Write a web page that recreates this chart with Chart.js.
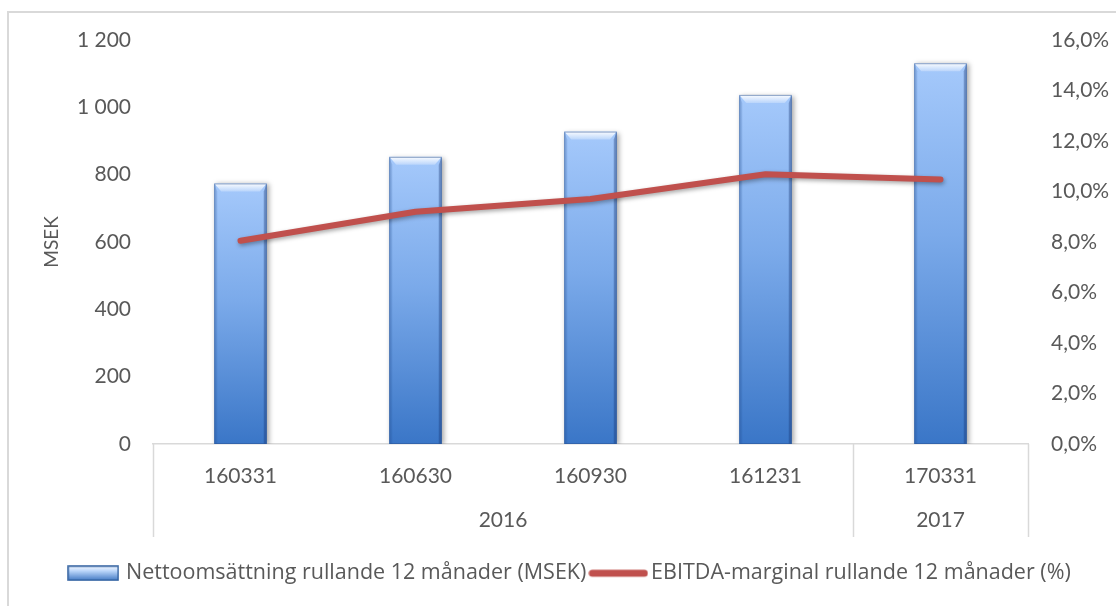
<!DOCTYPE html>
<html>
<head>
<meta charset="utf-8">
<script src="https://cdn.jsdelivr.net/npm/chart.js@4.4.1/dist/chart.umd.min.js"></script>
<style>
  html, body { margin: 0; padding: 0; background: #ffffff; overflow: hidden; }
  #wrap { position: relative; width: 1116px; height: 606px; }
  #frame { position: absolute; left: 7px; top: 11px; width: 1200px; height: 700px;
           border: 2px solid #d9d9d9; box-sizing: border-box; }
  #box { position: absolute; left: 0; top: 0; width: 1116px; height: 606px; }
</style>
</head>
<body>
<div id="wrap">
  <div id="frame"></div>
  <div id="box"><canvas id="c"></canvas></div>
</div>
<script>
// ---- data ----
const categories = ['160331', '160630', '160930', '161231', '170331'];
const groupLabels = ['2016', '2017'];
const groupSpans = [4, 1];
const salesMSEK = [774, 853, 928, 1037, 1131];
const ebitdaMarginPct = [8.05, 9.2, 9.7, 10.68, 10.48];
const barLabel = 'Nettoomsättning rullande 12 månader (MSEK)';
const lineLabel = 'EBITDA-marginal rullande 12 månader (%)';
const leftAxisTitle = 'MSEK';
const leftTicks = { min: 0, max: 1200, step: 200 };
const rightTicks = { min: 0, max: 16, step: 2 };

const TEXT = '#595959';
const FONT = 'Lato, "Open Sans", sans-serif';
const LEGEND_FONT = '"Open Sans", Lato, sans-serif';
const RED = '#C0504D';

// legend glyphs
function makeBarGlyph() {
  const c = document.createElement('canvas');
  c.width = 52; c.height = 16;
  const g = c.getContext('2d');
  const gr = g.createLinearGradient(0, 0, 0, 16);
  gr.addColorStop(0, '#ffffff');
  gr.addColorStop(0.35, '#bcd7fb');
  gr.addColorStop(1, '#3a73c0');
  g.fillStyle = gr;
  g.fillRect(1, 1, 50, 14);
  g.strokeStyle = '#2f5f9e';
  g.lineWidth = 1.5;
  g.strokeRect(1, 1, 50, 14);
  return c;
}
function makeLineGlyph() {
  const c = document.createElement('canvas');
  c.width = 60; c.height = 10;
  const g = c.getContext('2d');
  g.strokeStyle = RED;
  g.lineWidth = 7;
  g.lineCap = 'round';
  g.beginPath(); g.moveTo(4, 5); g.lineTo(56, 5); g.stroke();
  return c;
}
const barGlyph = makeBarGlyph();
const lineGlyph = makeLineGlyph();

function barGradient(ctx) {
  const chart = ctx.chart;
  if (!chart.chartArea || ctx.raw === undefined) return '#6fa0e2';
  const ys = chart.scales.y;
  const top = ys.getPixelForValue(ctx.raw);
  const base = ys.getPixelForValue(0);
  const g = chart.ctx.createLinearGradient(0, top, 0, base);
  g.addColorStop(0, '#A5C9FB');
  g.addColorStop(0.45, '#7BAAEA');
  g.addColorStop(1, '#3A76C7');
  return g;
}

// bevel + shadow for bars
const bevelPlugin = {
  id: 'bevel',
  beforeDatasetDraw(chart, args) {
    const ctx = chart.ctx;
    ctx.save();
    if (args.meta.type === 'bar') {
      ctx.shadowColor = 'rgba(0,0,0,0.35)';
      ctx.shadowBlur = 5; ctx.shadowOffsetX = 2; ctx.shadowOffsetY = 1;
    } else {
      ctx.shadowColor = 'rgba(0,0,0,0.35)';
      ctx.shadowBlur = 4; ctx.shadowOffsetX = 1; ctx.shadowOffsetY = 2;
    }
  },
  afterDatasetDraw(chart, args) {
    const ctx = chart.ctx;
    ctx.restore();
    if (args.meta.type !== 'bar') return;
    args.meta.data.forEach(el => {
      const w = el.width, l = el.x - w / 2, r = el.x + w / 2, t = el.y, b = el.base;
      const bv = 8, sd = 3;
      ctx.save();
      ctx.fillStyle = 'rgba(30,70,140,0.18)';
      ctx.beginPath(); ctx.moveTo(l, t); ctx.lineTo(l + sd, t + bv); ctx.lineTo(l + sd, b); ctx.lineTo(l, b); ctx.closePath(); ctx.fill();
      ctx.fillStyle = 'rgba(20,50,110,0.35)';
      ctx.beginPath(); ctx.moveTo(r, t); ctx.lineTo(r - sd, t + bv); ctx.lineTo(r - sd, b); ctx.lineTo(r, b); ctx.closePath(); ctx.fill();
      const g = ctx.createLinearGradient(0, t, 0, t + bv);
      g.addColorStop(0, 'rgba(255,255,255,0.95)');
      g.addColorStop(1, 'rgba(255,255,255,0.25)');
      ctx.fillStyle = g;
      ctx.beginPath(); ctx.moveTo(l, t); ctx.lineTo(r, t); ctx.lineTo(r - sd - 4, t + bv); ctx.lineTo(l + sd + 4, t + bv); ctx.closePath(); ctx.fill();
      ctx.strokeStyle = 'rgba(45,85,150,0.55)';
      ctx.lineWidth = 1;
      ctx.strokeRect(l + 0.5, t + 0.5, w - 1, b - t - 1);
      ctx.restore();
    });
  }
};

// multi-level category axis: separators + group labels
const groupAxisPlugin = {
  id: 'groupAxis',
  afterDraw(chart) {
    const xs = chart.scales.x;
    const ctx = chart.ctx;
    const bottom = chart.chartArea.bottom;
    const half = (xs.getPixelForValue(1) - xs.getPixelForValue(0)) / 2;
    ctx.save();
    ctx.strokeStyle = '#d9d9d9';
    ctx.lineWidth = 1.5;
    let idx = 0;
    const edges = [];
    groupSpans.forEach((span, gi) => {
      const x0 = xs.getPixelForValue(idx) - half;
      const x1 = xs.getPixelForValue(idx + span - 1) + half;
      edges.push(x0);
      if (gi === groupSpans.length - 1) edges.push(x1);
      ctx.fillStyle = TEXT;
      ctx.font = '21px ' + FONT;
      ctx.textAlign = 'center';
      ctx.textBaseline = 'middle';
      ctx.fillText(groupLabels[gi], (x0 + x1) / 2, bottom + 76);
      idx += span;
    });
    edges.forEach(x => {
      ctx.beginPath(); ctx.moveTo(Math.round(x) + 0.5, bottom); ctx.lineTo(Math.round(x) + 0.5, bottom + 93); ctx.stroke();
    });
    ctx.restore();
  }
};

const fmtThousands = v => String(v).replace(/\B(?=(\d{3})+(?!\d))/g, ' ');
const fmtPct = v => v.toFixed(1).replace('.', ',') + '%';

new Chart(document.getElementById('c'), {
  data: {
    labels: categories,
    datasets: [
      {
        type: 'line', label: lineLabel, data: ebitdaMarginPct, yAxisID: 'y2',
        borderColor: RED, backgroundColor: RED, borderWidth: 6,
        pointRadius: 0, pointHoverRadius: 0, tension: 0,
        borderCapStyle: 'round', borderJoinStyle: 'round', order: 0
      },
      {
        type: 'bar', label: barLabel, data: salesMSEK, yAxisID: 'y',
        backgroundColor: barGradient, borderWidth: 0,
        barPercentage: 0.6, categoryPercentage: 0.5, order: 1
      }
    ]
  },
  plugins: [bevelPlugin, groupAxisPlugin],
  options: {
    responsive: true,
    maintainAspectRatio: false,
    animation: false,
    events: [],
    layout: { padding: { top: 40, left: 26, right: 0, bottom: 12 } },
    plugins: {
      tooltip: { enabled: false },
      title: { display: false },
      legend: {
        position: 'bottom',
        labels: {
          usePointStyle: true,
          pointStyleWidth: 44,
          padding: 10,
          color: TEXT,
          font: { family: LEGEND_FONT, size: 21.5 },
          generateLabels: () => [
            { text: barLabel, pointStyle: barGlyph, fillStyle: 'transparent', strokeStyle: 'transparent', lineWidth: 0, hidden: false, datasetIndex: 1, fontColor: TEXT },
            { text: lineLabel, pointStyle: lineGlyph, fillStyle: 'transparent', strokeStyle: 'transparent', lineWidth: 0, hidden: false, datasetIndex: 0, fontColor: TEXT }
          ]
        }
      }
    },
    scales: {
      x: {
        type: 'category',
        offset: true,
        grid: { display: false, drawTicks: false },
        border: { display: true, color: '#d9d9d9', width: 1.5 },
        ticks: { color: TEXT, font: { family: FONT, size: 21 }, padding: 20, maxRotation: 0, autoSkip: false },
        afterFit: s => { s.height = 108.5; }
      },
      y: {
        position: 'left',
        min: leftTicks.min, max: leftTicks.max,
        grid: { display: false, drawTicks: false },
        border: { display: false },
        ticks: { stepSize: leftTicks.step, color: TEXT, font: { family: FONT, size: 21 }, padding: 22, callback: v => fmtThousands(v) },
        title: { display: true, text: leftAxisTitle, color: TEXT, font: { family: FONT, size: 19 }, padding: { top: 14, bottom: 0 } },
        afterFit: s => { s.width = 127; }
      },
      y2: {
        position: 'right',
        min: rightTicks.min, max: rightTicks.max,
        grid: { display: false, drawTicks: false },
        border: { display: false },
        ticks: { stepSize: rightTicks.step, color: TEXT, font: { family: FONT, size: 21 }, padding: 23, callback: v => fmtPct(v) },
        afterFit: s => { s.width = 88; }
      }
    }
  }
});
</script>
</body>
</html>
